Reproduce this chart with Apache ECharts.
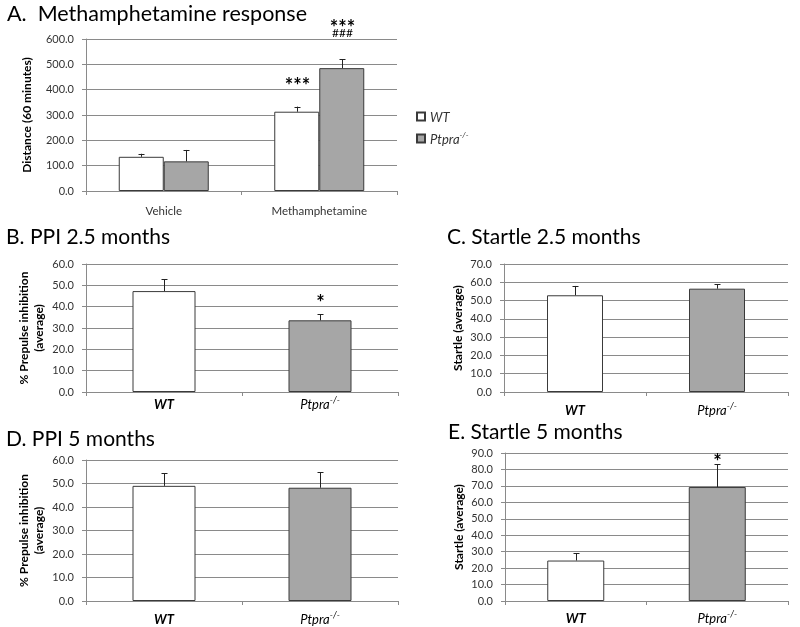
<!DOCTYPE html>
<html><head><meta charset="utf-8">
<script src="https://cdn.jsdelivr.net/npm/echarts@6/dist/echarts.min.js"></script>
<style>html,body{margin:0;padding:0;background:#fff}#c{width:800px;height:627px}</style>
</head><body><div id="c"></div>
<script>
// ---------- DATA ----------
const groupNames = ['WT', 'Ptpra-/-'];
// Panel A
const aCategories = ['Vehicle', 'Methamphetamine'];
const aWT = [135, 313];
const aWTErr = [12, 20];
const aKO = [117, 485];
const aKOErr = [45, 35];
const aWTMarks = ['', '***'];
const aKOMarks = [['', ''], ['***', '###']];
// Panel B: PPI 2.5 months
const bValues = [47.3, 33.6];
const bErr = [5.5, 2.8];
const bMarks = ['', '*'];
// Panel C: Startle 2.5 months
const cValues = [52.9, 56.5];
const cErr = [5.1, 2.4];
const cMarks = ['', ''];
// Panel D: PPI 5 months
const dValues = [49.0, 48.2];
const dErr = [5.3, 6.6];
const dMarks = ['', ''];
// Panel E: Startle 5 months
const eValues = [24.6, 69.3];
const eErr = [4.3, 14.0];
const eMarks = ['', '*'];
// Axis ranges
const aMax = 600, aStep = 100;
const bMax = 60, bStep = 10;
const cMax = 70, cStep = 10;
const dMax = 60, dStep = 10;
const eMax = 90, eStep = 10;
const titles = ['A.  Methamphetamine response', 'B. PPI 2.5 months', 'C. Startle 2.5 months', 'D. PPI 5 months', 'E. Startle 5 months'];
const yNames = ['Distance (60 minutes)', '% Prepulse inhibition\n(average)', 'Startle (average)', '% Prepulse inhibition\n(average)', 'Startle (average)'];

// ---------- STYLE ----------
const FONT = 'Lato, "Open Sans", sans-serif';
const WHITE = '#ffffff', GREY = '#a6a6a6', EDGE = '#3a3a3a';
const GRIDC = '#8a8a8a', TXT = '#333333';
const fills = [WHITE, GREY];

const grids = [
  {left: 86, top: 39, width: 311, height: 152},
  {left: 86, top: 264, width: 312, height: 128},
  {left: 504, top: 264, width: 284, height: 128},
  {left: 86, top: 460, width: 312, height: 141},
  {left: 505, top: 453, width: 283, height: 148}
];
const barW = [45, 63, 56, 63, 57];
const labelMargins = [14, 4, 10, 10, 9];
const yNameGaps = [51, 39, 38, 39, 38];

const richCat = {
  b: {fontFamily: FONT, fontSize: 13, fontStyle: 'italic', fontWeight: 'bold', color: '#000', lineHeight: 15, verticalAlign: 'bottom'},
  i: {fontFamily: FONT, fontSize: 13, fontStyle: 'italic', color: '#000', lineHeight: 15, verticalAlign: 'bottom'},
  s: {fontFamily: FONT, fontSize: 9, fontStyle: 'italic', color: '#000', lineHeight: 9, verticalAlign: 'top'}
};
function catFmt(v){
  if (v === 'WT') return '{b|WT}';
  if (v === 'Ptpra-/-') return '{i|Ptpra}{s|-/-}';
  return v;
}

function mkX(i, cats){
  return {
    type: 'category', gridIndex: i, data: cats,
    axisLine: {lineStyle: {color: GRIDC}},
    axisTick: {show: true, length: 4, lineStyle: {color: GRIDC}},
    axisLabel: i === 0
      ? {color: TXT, fontFamily: FONT, fontSize: 11.5, margin: labelMargins[i]}
      : {formatter: catFmt, rich: richCat, margin: labelMargins[i]}
  };
}
function mkY(i, max, step){
  return {
    type: 'value', gridIndex: i, min: 0, max: max, interval: step,
    name: yNames[i], nameLocation: 'middle', nameGap: yNameGaps[i], nameRotate: 90,
    nameTextStyle: {fontFamily: FONT, fontSize: 12, fontWeight: 'bold', color: '#000', lineHeight: 15},
    axisLine: {show: true, lineStyle: {color: GRIDC}},
    axisTick: {show: true, length: 4, lineStyle: {color: GRIDC}},
    splitLine: {show: true, lineStyle: {color: GRIDC, width: 1}},
    axisLabel: {color: TXT, fontFamily: FONT, fontSize: 11, margin: 12, formatter: v => v.toFixed(1)}
  };
}

function errSeries(gi, values, errs, offset, marks, markCfg){
  return {
    type: 'custom', xAxisIndex: gi, yAxisIndex: gi, z: 5,
    data: values.map((v, k) => [k, v, errs[k]]),
    encode: {x: 0, y: 1},
    renderItem: function(params, api){
      const k = api.value(0), v = api.value(1), e = api.value(2);
      const p0 = api.coord([k, v]), p1 = api.coord([k, v + e]);
      const cx = Math.round(p0[0] + offset) + 0.5;
      const children = [
        {type: 'line', shape: {x1: cx, y1: p0[1], x2: cx, y2: p1[1]}, style: {stroke: '#222', lineWidth: 1}},
        {type: 'line', shape: {x1: cx - 3, y1: Math.round(p1[1]) + 0.5, x2: cx + 3, y2: Math.round(p1[1]) + 0.5}, style: {stroke: '#222', lineWidth: 1}}
      ];
      const m = marks[params.dataIndex];
      const list = Array.isArray(m) ? m : [m];
      list.forEach((t, j) => {
        if (!t) return;
        const cfg = markCfg[j];
        children.push({type: 'text', style: {text: t, x: cx, y: p1[1] - cfg.gap, align: 'center', verticalAlign: 'middle',
          fontFamily: FONT, fontSize: cfg.size, fill: '#000', fontWeight: cfg.weight || 'normal'}});
      });
      return {type: 'group', children: children};
    }
  };
}

function singleBars(gi, values){
  return {
    type: 'bar', name: 'panel' + gi, xAxisIndex: gi, yAxisIndex: gi, barWidth: barW[gi],
    data: values.map((v, k) => ({value: v, itemStyle: {color: fills[k]}})),
    itemStyle: {borderColor: EDGE, borderWidth: 1}
  };
}

const titleTops = [3, 227, 227, 429, 422];
const titleLefts = [7, 6, 447, 6, 448];
const STAR = {size: 20, weight: 'bold'};

const option = {
  animation: false,
  backgroundColor: '#fff',
  title: titles.map((t, i) => ({text: t, left: titleLefts[i], top: titleTops[i], padding: 0,
    textStyle: {fontFamily: FONT, fontSize: i === 0 ? 21.5 : 21, fontWeight: 'normal', color: '#000'}})),
  legend: {
    data: groupNames, orient: 'vertical', left: 416, top: 111, itemWidth: 8, itemHeight: 8, itemGap: 7,
    icon: 'rect', padding: 0,
    formatter: n => n === 'WT' ? '{i|WT}' : '{i|Ptpra}{s|-/-}',
    textStyle: {rich: {
      i: {fontFamily: FONT, fontSize: 13, fontStyle: 'italic', color: TXT, lineHeight: 15, verticalAlign: 'bottom'},
      s: {fontFamily: FONT, fontSize: 8, fontStyle: 'italic', color: TXT, lineHeight: 8, verticalAlign: 'top'}
    }}
  },
  grid: grids,
  xAxis: [mkX(0, aCategories), mkX(1, groupNames), mkX(2, groupNames), mkX(3, groupNames), mkX(4, groupNames)],
  yAxis: [mkY(0, aMax, aStep), mkY(1, bMax, bStep), mkY(2, cMax, cStep), mkY(3, dMax, dStep), mkY(4, eMax, eStep)],
  series: [
    {type: 'bar', name: 'WT', xAxisIndex: 0, yAxisIndex: 0, data: aWT, barWidth: barW[0], barGap: '0%',
      itemStyle: {color: WHITE, borderColor: EDGE, borderWidth: 1}},
    {type: 'bar', name: 'Ptpra-/-', xAxisIndex: 0, yAxisIndex: 0, data: aKO, barWidth: barW[0], barGap: '0%',
      itemStyle: {color: GREY, borderColor: EDGE, borderWidth: 1}},
    errSeries(0, aWT, aWTErr, -barW[0] / 2, aWTMarks, [Object.assign({gap: 20}, STAR)]),
    errSeries(0, aKO, aKOErr, barW[0] / 2, aKOMarks, [Object.assign({gap: 31}, STAR), {gap: 26, size: 12}]),
    singleBars(1, bValues), errSeries(1, bValues, bErr, 0, bMarks, [Object.assign({gap: 11}, STAR)]),
    singleBars(2, cValues), errSeries(2, cValues, cErr, 0, cMarks, [Object.assign({gap: 11}, STAR)]),
    singleBars(3, dValues), errSeries(3, dValues, dErr, 0, dMarks, [Object.assign({gap: 11}, STAR)]),
    singleBars(4, eValues), errSeries(4, eValues, eErr, 0, eMarks, [Object.assign({gap: 1}, STAR)])
  ]
};
echarts.init(document.getElementById('c'), null, {renderer: 'canvas'}).setOption(option);
</script>
</body></html>
